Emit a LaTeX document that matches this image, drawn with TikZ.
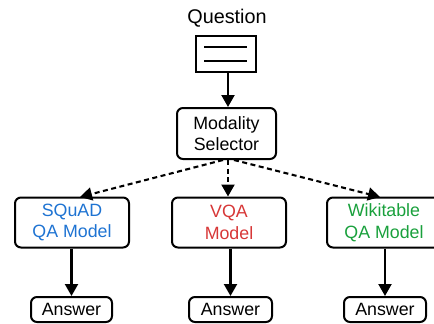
\documentclass[tikz,border=0pt]{standalone}
\usepackage{fontspec}
\setmainfont{Liberation Sans}
\usetikzlibrary{arrows.meta}
\definecolor{sqblue}{RGB}{30,115,210}
\definecolor{vqared}{RGB}{215,55,55}
\definecolor{wkgreen}{RGB}{25,160,60}
\begin{document}
\begin{tikzpicture}[x=1pt,y=-1pt,
  box/.style={draw,line width=2pt,rounded corners=6pt,inner sep=0pt,align=center,font=\fontsize{17.8}{21.5}\selectfont},
  arr/.style={line width=2.1pt,-{Triangle[width=13pt,length=12pt]}},
  darr/.style={arr,dash pattern=on 5pt off 3.5pt}]
\useasboundingbox (0,0) rectangle (434,324);
\clip (0,0) rectangle (434,324);
\node[font=\fontsize{19.8}{22}\selectfont] (q) at (227,18) {Question};
\node[draw,line width=2pt,minimum width=60pt,minimum height=36pt,inner sep=0pt] (doc) at (225.5,53.5) {};
\draw[line width=2pt] (204,47) -- (247,47) (204,61) -- (247,61);
\node[box,minimum width=99pt,minimum height=51pt] (ms) at (226.5,133.5) {Modality\\Selector};
\node[box,minimum width=114pt,minimum height=50pt,text=sqblue] (sq) at (72,222.5) {SQuAD\\QA Model};
\node[box,minimum width=114pt,minimum height=50pt,text=vqared] (vq) at (229,222.5) {VQA\\Model};
\node[box,minimum width=114pt,minimum height=50pt,text=wkgreen] (wk) at (384,222.5) {Wikitable\\QA Model};
\node[box,minimum width=81pt,minimum height=25pt] (a1) at (71.5,309.5) {Answer};
\node[box,minimum width=83pt,minimum height=25pt] (a2) at (230.5,309.5) {Answer};
\node[box,minimum width=82pt,minimum height=25pt] (a3) at (385,309.5) {Answer};
\draw[arr] (doc.south -| 228,0) -- (ms.north -| 228,0);
\coordinate (s1) at (223,160);
\coordinate (s2) at (228,160);
\coordinate (s3) at (234,160);
\draw[darr] (s1) -- (80,197);
\draw[darr] (s2) -- (vq.north -| 228,0);
\draw[darr] (s3) -- (380,197);
\draw[arr] (sq.south -| a1.north) -- (a1.north);
\draw[arr] (vq.south -| a2.north) -- (a2.north);
\draw[arr] (wk.south -| a3.north) -- (a3.north);
\end{tikzpicture}
\end{document}
